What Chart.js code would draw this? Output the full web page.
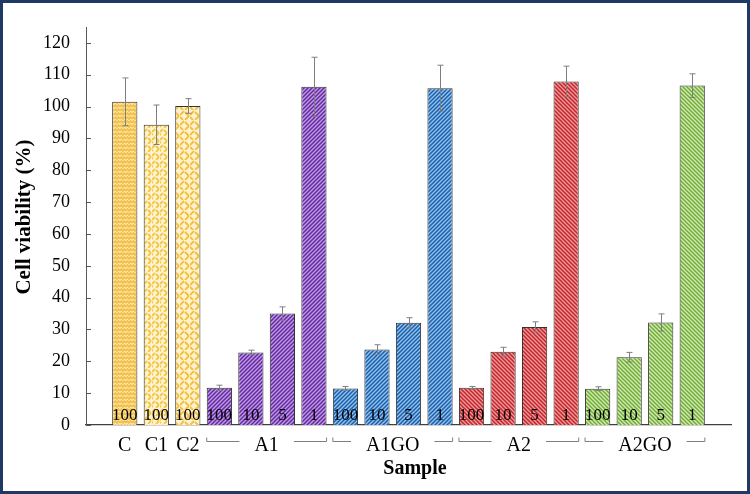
<!DOCTYPE html>
<html>
<head>
<meta charset="utf-8">
<script src="https://cdn.jsdelivr.net/npm/chart.js@4"></script>
<style>
  body { margin: 0; background: #fff; }
  canvas { display: block; }
</style>
</head>
<body>
<canvas id="myChart" width="750" height="494"></canvas>
<script>
// sample name under each bar, concentration printed inside each bar
const barSamples = ['C', 'C1', 'C2',
  'A1', 'A1', 'A1', 'A1',
  'A1GO', 'A1GO', 'A1GO', 'A1GO',
  'A2', 'A2', 'A2', 'A2',
  'A2GO', 'A2GO', 'A2GO', 'A2GO'];
const concentrations = ['100', '100', '100',
  '100', '10', '5', '1',
  '100', '10', '5', '1',
  '100', '10', '5', '1',
  '100', '10', '5', '1'];
const viability = [101.5, 94.3, 100.2,
  11.7, 22.8, 35.0, 106.2,
  11.5, 23.7, 32.1, 105.8,
  11.7, 23.0, 30.8, 107.9,
  11.4, 21.3, 32.2, 106.6];
const errors = [7.5, 6.2, 2.3,
  0.8, 0.7, 2.1, 9.3,
  0.6, 1.5, 1.6, 7.2,
  0.4, 1.4, 1.6, 4.8,
  0.6, 1.5, 2.7, 3.7];

// hatch fills
function makePattern(kind, fg, bg) {
  const c = document.createElement('canvas');
  const s = kind === 'weave2' ? 10 : (kind === 'weave' ? 8 : (kind === 'zigzag' ? 6 : 4));
  c.width = s; c.height = kind === 'zigzag' ? 4 : s;
  const g = c.getContext('2d');
  g.fillStyle = bg;
  g.fillRect(0, 0, c.width, c.height);
  g.strokeStyle = fg;
  g.lineWidth = kind === 'up' || kind === 'down' ? 1.5 : 1.8;
  g.beginPath();
  if (kind === 'up') {
    g.moveTo(-1, s + 1); g.lineTo(s + 1, -1);
    g.moveTo(-1, 1); g.lineTo(1, -1);
    g.moveTo(s - 1, s + 1); g.lineTo(s + 1, s - 1);
  } else if (kind === 'down') {
    g.moveTo(-1, -1); g.lineTo(s + 1, s + 1);
    g.moveTo(s - 1, -1); g.lineTo(s + 1, 1);
    g.moveTo(-1, s - 1); g.lineTo(1, s + 1);
  } else if (kind === 'zigzag') {
    g.moveTo(0, 3); g.lineTo(1.5, 1); g.lineTo(3, 3); g.lineTo(4.5, 1); g.lineTo(6, 3);
  } else if (kind === 'weave') {
    g.moveTo(0, 4); g.lineTo(3, 1);
    g.moveTo(4, 8); g.lineTo(7, 5);
    g.moveTo(4, 2); g.lineTo(7, 5);
    g.moveTo(0, 6); g.lineTo(1, 7);
  } else {
    g.moveTo(0, 5); g.lineTo(4, 1);
    g.moveTo(5, 10); g.lineTo(9, 6);
    g.moveTo(5, 2); g.lineTo(9, 6);
    g.moveTo(0, 7); g.lineTo(3, 10);
  }
  g.stroke();
  return g.createPattern(c, 'repeat');
}

const fills = [
  makePattern('zigzag', '#f2c04a', '#fde9b0'),
  makePattern('weave', '#f4c445', '#fff4d2'),
  makePattern('weave2', '#f2bf42', '#fff2cc')
];
const groupFill = {
  'A1': makePattern('up', '#652a9e', '#bf9be9'),
  'A1GO': makePattern('up', '#1d5ea8', '#92c4f2'),
  'A2': makePattern('down', '#c0262c', '#f29a9a'),
  'A2GO': makePattern('down', '#72aa3e', '#d3edae')
};
const barFills = barSamples.map((s, i) => i < 3 ? fills[i] : groupFill[s]);

const serif = '"Liberation Serif", "Times New Roman", serif';

const decorations = {
  id: 'decorations',
  afterDatasetsDraw(chart) {
    const ctx = chart.ctx;
    const y = chart.scales.y;
    const bars = chart.getDatasetMeta(0).data;
    ctx.save();
    // error bars
    ctx.strokeStyle = '#7f7f7f';
    ctx.lineWidth = 1;
    bars.forEach((b, i) => {
      const x = Math.round(b.x) + 0.5;
      const t = y.getPixelForValue(viability[i] + errors[i]);
      const d = y.getPixelForValue(viability[i] - errors[i]);
      ctx.beginPath();
      ctx.moveTo(x, t); ctx.lineTo(x, d);
      ctx.moveTo(x - 3, t); ctx.lineTo(x + 3, t);
      ctx.moveTo(x - 3, d); ctx.lineTo(x + 3, d);
      ctx.stroke();
    });
    // concentrations inside bars
    ctx.fillStyle = '#000';
    ctx.font = '17px ' + serif;
    ctx.textAlign = 'center';
    ctx.textBaseline = 'alphabetic';
    bars.forEach((b, i) => {
      ctx.fillText(concentrations[i], b.x, b.base - 5);
    });
    ctx.restore();
  },
  afterDraw(chart) {
    const ctx = chart.ctx;
    const y = chart.scales.y;
    const area = chart.chartArea;
    const bars = chart.getDatasetMeta(0).data;
    ctx.save();
    // inward y ticks
    ctx.strokeStyle = '#595959';
    ctx.lineWidth = 1;
    y.ticks.forEach(t => {
      const py = Math.round(y.getPixelForValue(t.value)) + 0.5;
      ctx.beginPath();
      ctx.moveTo(area.left, py); ctx.lineTo(area.left + 5, py);
      ctx.stroke();
    });
    // sample labels and group brackets
    ctx.fillStyle = '#000';
    ctx.font = '20px ' + serif;
    ctx.textAlign = 'center';
    ctx.textBaseline = 'alphabetic';
    let i = 0;
    while (i < barSamples.length) {
      let j = i;
      while (j + 1 < barSamples.length && barSamples[j + 1] === barSamples[i]) j++;
      const l = bars[i].x - bars[i].width / 2;
      const r = bars[j].x + bars[j].width / 2;
      const cx = (bars[i].x + bars[j].x) / 2;
      ctx.fillText(barSamples[i], cx, 451);
      if (j > i) {
        const w = ctx.measureText(barSamples[i]).width;
        const ly = 441.5;
        ctx.strokeStyle = '#7f7f7f';
        ctx.beginPath();
        ctx.moveTo(l, ly - 4); ctx.lineTo(l, ly); ctx.lineTo(cx - w / 2 - 15, ly);
        ctx.moveTo(cx + w / 2 + 15, ly); ctx.lineTo(r, ly); ctx.lineTo(r, ly - 4);
        ctx.stroke();
      }
      i = j + 1;
    }
    // axis titles
    ctx.font = 'bold 20px ' + serif;
    ctx.fillText('Sample', 415, 474);
    ctx.translate(25, 217);
    ctx.rotate(-Math.PI / 2);
    ctx.textBaseline = 'middle';
    ctx.font = 'bold 21px ' + serif;
    ctx.fillText('Cell viability (%)', 0, 0);
    ctx.restore();
    // frame
    ctx.save();
    ctx.strokeStyle = '#1f3864';
    ctx.lineWidth = 3;
    ctx.strokeRect(1.5, 1.5, 747, 491);
    ctx.restore();
  }
};

const ctx = document.getElementById('myChart');
new Chart(ctx, {
  type: 'bar',
  data: {
    datasets: [{
      data: viability.map((v, i) => ({ x: i, y: v })),
      backgroundColor: barFills,
      borderColor: '#333333',
      borderWidth: 1,
      categoryPercentage: 1,
      barPercentage: 0.8
    }]
  },
  options: {
    responsive: false,
    animation: false,
    layout: { padding: { top: 27, right: 19, left: 0, bottom: 0 } },
    plugins: { legend: { display: false }, tooltip: { enabled: false } },
    scales: {
      x: {
        type: 'linear',
        min: -1.23,
        max: 19.23,
        offset: false,
        grid: { display: false, drawTicks: false, offset: false },
        ticks: { display: false },
        border: { color: '#404040', width: 1.2 },
        afterFit: s => { s.height = 69; }
      },
      y: {
        min: 0,
        max: 125,
        grid: { display: false, drawTicks: false },
        border: { color: '#595959', width: 1 },
        ticks: {
          stepSize: 5,
          padding: 16,
          color: '#000',
          font: { family: serif, size: 18 },
          callback: v => v % 10 === 0 ? v : ''
        },
        afterFit: s => { s.width = 86; }
      }
    }
  },
  plugins: [decorations]
});
</script>
</body>
</html>
